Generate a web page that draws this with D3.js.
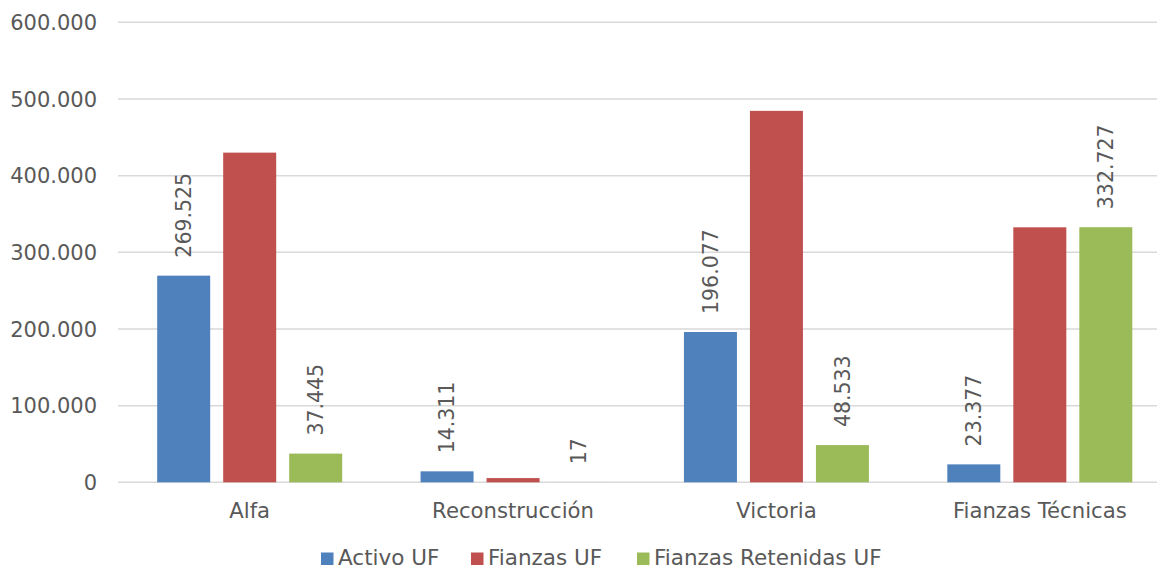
<!doctype html>
<html>
<head>
    <meta charset="utf-8">
    <title>Activo y Fianzas UF</title>
    <script src="https://d3js.org/d3.v7.min.js"></script>
    <style>
        body { margin: 0; background: #fff; }
        text { font-family: "DejaVu Sans", Verdana, sans-serif; fill: #595959; }
    </style>
</head>
<body>
    <div id="chart"></div>

    <script>
        // datos
        var categories = ["Alfa", "Reconstrucción", "Victoria", "Fianzas Técnicas"];
        var seriesNames = ["Activo UF", "Fianzas UF", "Fianzas Retenidas UF"];
        var activo = [269525, 14311, 196077, 23377];
        var fianzas = [430000, 5500, 484500, 332600];
        var retenidas = [37445, 17, 48533, 332727];
        var yTicks = [0, 100000, 200000, 300000, 400000, 500000, 600000];
        var colors = ["#4F81BD", "#C0504D", "#9BBB59"];
        var showLabel = [true, false, true];

        const width = 1157;
        const height = 569;

        var svg = d3.select("#chart")
            .append("svg")
            .attr("width", width)
            .attr("height", height);

        var x = d3.scaleBand().domain(categories).range([118, 1171.5]).paddingInner(0).paddingOuter(0);
        var y = d3.scaleLinear().domain([0, 600000]).range([482.3, 22.3]);

        var fmt = d3.formatLocale({decimal: ",", thousands: ".", grouping: [3], currency: ["$", ""]}).format(",.0f");

        // gridlines
        svg.append("g")
            .selectAll("line")
            .data(yTicks)
            .enter()
            .append("line")
                .attr("x1", 118)
                .attr("x2", width)
                .attr("y1", function(d){return y(d);})
                .attr("y2", function(d){return y(d);})
                .attr("stroke", "#d9d9d9")
                .attr("stroke-width", 1.5);

        // y labels
        svg.append("g")
            .selectAll("text")
            .data(yTicks)
            .enter()
            .append("text")
                .attr("x", 97)
                .attr("y", function(d){return y(d);})
                .attr("dy", "0.36em")
                .attr("text-anchor", "end")
                .attr("font-size", 21)
                .text(function(d){return fmt(d);});

        var series = [activo, fianzas, retenidas];
        var barW = 53, gap = 13;

        series.forEach(function(vals, s){
            var off = (s - 1) * (barW + gap) - barW / 2;
            var g = svg.append("g");
            g.selectAll("rect")
                .data(vals)
                .enter()
                .append("rect")
                    .attr("x", function(d, i){return x(categories[i]) + x.bandwidth()/2 + off;})
                    .attr("y", function(d){return y(d);})
                    .attr("width", barW)
                    .attr("height", function(d){return y(0) - y(d);})
                    .attr("fill", colors[s]);

            if (showLabel[s]) {
                g.selectAll("text")
                    .data(vals)
                    .enter()
                    .append("text")
                        .attr("transform", function(d, i){
                            var cx = x(categories[i]) + x.bandwidth()/2 + off + barW/2;
                            return "translate(" + cx + "," + (y(d) - 18) + ") rotate(-90)";
                        })
                        .attr("dy", "0.36em")
                        .attr("text-anchor", "start")
                        .attr("font-size", 20.5)
                        .text(function(d){return fmt(d);});
            }
        });

        // category labels
        svg.append("g")
            .selectAll("text")
            .data(categories)
            .enter()
            .append("text")
                .attr("x", function(d){return x(d) + x.bandwidth()/2;})
                .attr("y", 518)
                .attr("text-anchor", "middle")
                .attr("font-size", 21.2)
                .text(function(d){return d;});

        // legend
        var legendX = [321, 471, 637];
        var leg = svg.append("g");
        seriesNames.forEach(function(name, s){
            leg.append("rect")
                .attr("x", legendX[s])
                .attr("y", 552.5)
                .attr("width", 12.5)
                .attr("height", 12.5)
                .attr("fill", colors[s]);
            leg.append("text")
                .attr("x", legendX[s] + 17)
                .attr("y", 564.5)
                .attr("font-size", 21.5)
                .text(name);
        });
    </script>
</body>
</html>
